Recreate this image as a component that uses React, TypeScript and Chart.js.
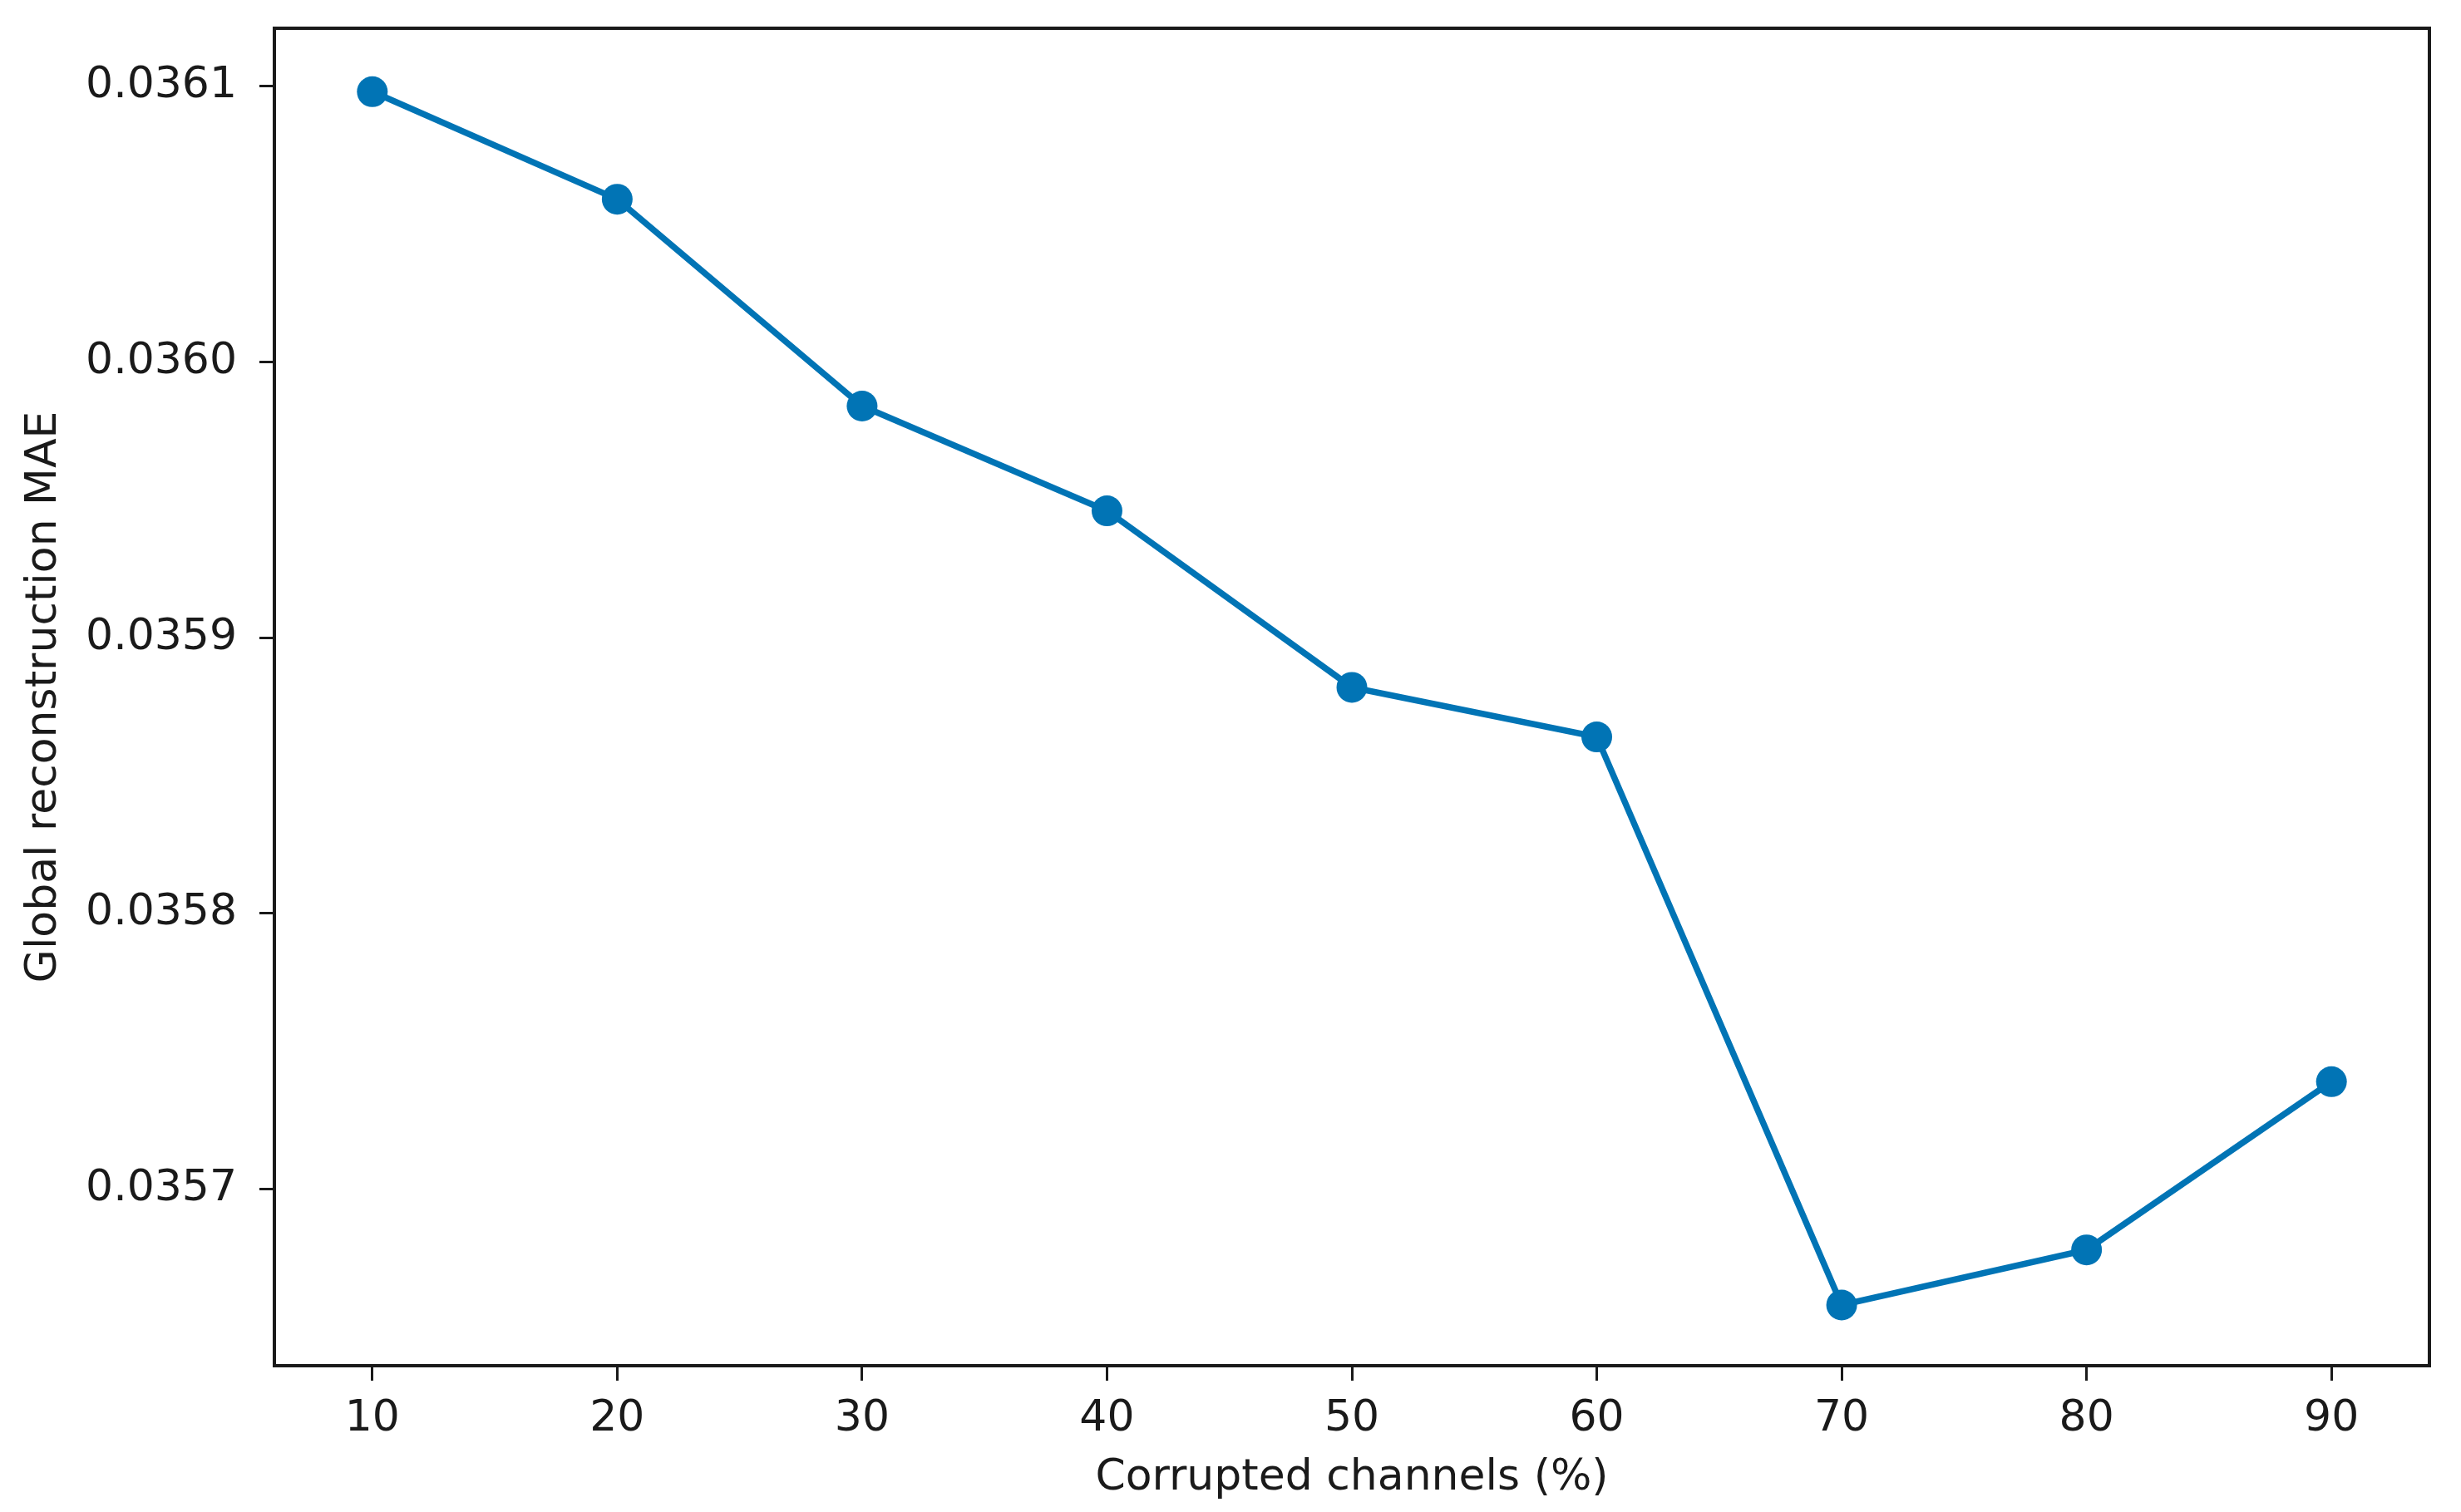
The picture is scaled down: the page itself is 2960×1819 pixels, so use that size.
import React, { useEffect, useRef } from "react";
import { Chart, registerables } from "chart.js";

Chart.register(...registerables);

const corruptedPct = [10, 20, 30, 40, 50, 60, 70, 80, 90];
const globalMAE = [0.036098, 0.036059, 0.035984, 0.035946, 0.035882, 0.035864, 0.035658, 0.035678, 0.035739];
const xTicks = [10, 20, 30, 40, 50, 60, 70, 80, 90];
const yTicks = [0.0357, 0.0358, 0.0359, 0.036, 0.0361];
const xTitle = "Corrupted channels (%)";
const yTitle = "Global reconstruction MAE";

const W = 2960;
const H = 1819;
const FONT = "'DejaVu Sans', sans-serif";
const FS = 52;
const BLUE = "#0174B5";
const INK = "#1a1a1a";

const framePlugin = {
  id: "frame",
  afterDraw(chart: any) {
    const { ctx, chartArea } = chart;
    ctx.save();
    ctx.strokeStyle = INK;
    ctx.lineWidth = 4;
    ctx.strokeRect(chartArea.left, chartArea.top, chartArea.right - chartArea.left, chartArea.bottom - chartArea.top);
    ctx.restore();
  },
};

export default function App() {
  const ref = useRef<HTMLCanvasElement>(null);
  useEffect(() => {
    document.body.style.margin = "0";
    const chart = new Chart(ref.current!, {
      type: "line",
      data: {
        datasets: [
          {
            data: corruptedPct.map((x, i) => ({ x, y: globalMAE[i] })),
            borderColor: BLUE,
            backgroundColor: BLUE,
            borderWidth: 7.5,
            pointRadius: 18.5,
            pointBorderWidth: 0,
            pointBackgroundColor: BLUE,
            tension: 0,
          },
        ],
      },
      plugins: [framePlugin],
      options: {
        animation: false,
        responsive: false,
        devicePixelRatio: 1,
        layout: { padding: { top: 34, right: 38, left: 0, bottom: 0 } },
        plugins: { legend: { display: false }, tooltip: { enabled: false } },
        scales: {
          x: {
            type: "linear",
            min: 6,
            max: 94,
            afterBuildTicks: (s: any) => {
              s.ticks = xTicks.map((v) => ({ value: v }));
            },
            afterFit: (s: any) => {
              s.height = 176;
              s.paddingLeft = 0;
              s.paddingRight = 0;
            },
            grid: { drawOnChartArea: false, drawTicks: true, tickLength: 18, tickWidth: 3, tickColor: INK },
            border: { display: false },
            ticks: { color: INK, font: { family: FONT, size: FS }, padding: 15, maxRotation: 0 },
            title: { display: true, text: xTitle, color: INK, font: { family: FONT, size: FS, lineHeight: 1.2 }, padding: { top: 0, bottom: 9 } },
          },
          y: {
            type: "linear",
            min: 0.035636,
            max: 0.036121,
            afterBuildTicks: (s: any) => {
              s.ticks = yTicks.map((v) => ({ value: v }));
            },
            afterFit: (s: any) => {
              s.width = 330;
              s.paddingTop = 0;
              s.paddingBottom = 0;
            },
            grid: { drawOnChartArea: false, drawTicks: true, tickLength: 18, tickWidth: 3, tickColor: INK },
            border: { display: false },
            ticks: {
              color: INK,
              font: { family: FONT, size: FS },
              padding: 27,
              callback: (v: any) => Number(v).toFixed(4),
            },
            title: { display: true, text: yTitle, color: INK, font: { family: FONT, size: FS, lineHeight: 1.2 }, padding: { top: 22, bottom: 0 } },
          },
        },
      },
    });
    return () => chart.destroy();
  }, []);
  return (
    <div style={{ position: "absolute", left: 0, top: 0, width: W, height: H, background: "#fff" }}>
      <canvas ref={ref} width={W} height={H} style={{ width: W, height: H }} />
    </div>
  );
}
